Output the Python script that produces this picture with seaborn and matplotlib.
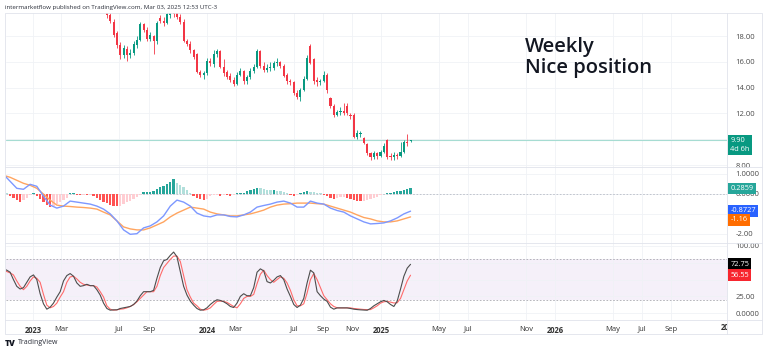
import numpy as np
import pandas as pd
import matplotlib
matplotlib.use("Agg")
import matplotlib.pyplot as plt
import matplotlib.dates as mdates
from matplotlib.transforms import Bbox
from matplotlib.lines import Line2D
from matplotlib.patches import Rectangle
import seaborn as sns

sns.set_theme(style="white")
plt.rcParams["font.family"] = ["Open Sans", "DejaVu Sans"]

# ---------------- data ----------------
first_week = "2022-10-31"          # week 0 of the indicator series
n_weeks = 123                      # weeks 0..122 (last = 2025-03-03)
candle_first_week = 31             # first visible candle (2023-06-05)

opens = [20.1, 19.6, 19.1, 18.2, 17.3, 16.5, 17.0, 16.5, 16.7, 17.3,
         17.7, 18.9, 18.5, 17.8, 18.0, 17.6, 19.4, 19.2, 19.0, 19.6,
         19.9, 19.8, 19.5, 19.1, 17.6, 17.4, 16.9, 16.6, 15.2, 15.0,
         15.1, 16.1, 15.8, 16.6, 16.8, 15.6, 15.2, 14.9, 14.6, 14.3,
         15.0, 15.3, 14.5, 14.8, 15.3, 15.6, 16.8, 15.7, 15.4, 15.5,
         15.5, 15.9, 16.0, 15.7, 15.0, 14.5, 14.4, 13.6, 13.3, 13.8,
         14.7, 17.2, 16.2, 14.6, 14.4, 14.5, 15.0, 13.2, 12.6, 11.9,
         12.1, 12.2, 12.6, 11.9, 11.9, 10.2, 10.4, 10.1, 9.6, 8.9,
         8.6, 8.9, 8.7, 9.0, 9.9, 8.7, 8.6, 8.8, 8.7, 9.0,
         9.8, 9.85]
closes = [19.6, 19.2, 18.1, 17.3, 16.5, 17.1, 16.5, 16.7, 17.4, 17.7,
          18.9, 18.5, 17.8, 18.1, 17.6, 19.0, 19.2, 19.0, 19.7, 20.0,
          19.7, 19.5, 19.1, 17.6, 17.4, 16.9, 16.4, 15.2, 15.0, 15.1,
          16.1, 15.9, 16.6, 16.8, 15.6, 15.1, 14.8, 14.6, 14.3, 15.0,
          15.3, 14.5, 14.8, 15.3, 15.6, 16.8, 15.7, 15.4, 15.5, 15.6,
          15.9, 16.0, 15.7, 14.9, 14.5, 14.4, 13.6, 13.3, 13.8, 14.7,
          16.3, 15.9, 14.5, 14.4, 14.5, 15.0, 13.8, 12.6, 11.9, 12.1,
          12.2, 12.0, 12.0, 11.8, 10.2, 10.5, 10.45, 9.7, 8.9, 8.6,
          8.9, 8.7, 9.0, 9.5, 8.6, 8.6, 8.8, 8.7, 9.0, 9.8,
          9.7, 9.90]
highs = [20.4, 19.8, 19.3, 18.4, 17.5, 17.3, 17.2, 17.0, 17.6, 18.0,
         19.1, 19.0, 18.7, 18.3, 18.1, 19.2, 19.6, 19.5, 19.9, 20.3,
         20.2, 20.0, 19.7, 19.3, 17.8, 17.6, 17.0, 16.7, 15.4, 15.3,
         16.3, 16.3, 16.9, 17.0, 16.9, 16.2, 15.4, 15.1, 14.8, 15.2,
         15.5, 15.4, 15.0, 15.5, 15.8, 17.0, 16.9, 16.0, 15.8, 16.0,
         16.1, 16.3, 16.1, 15.8, 15.1, 14.7, 14.5, 13.8, 14.0, 14.9,
         16.5, 17.4, 16.3, 14.8, 14.7, 15.3, 15.1, 13.3, 12.7, 12.3,
         12.5, 12.8, 12.8, 12.0, 12.0, 10.7, 10.6, 10.2, 9.7, 9.0,
         9.1, 9.0, 9.2, 9.7, 10.0, 8.9, 9.0, 8.9, 9.8, 9.9,
         10.4, 9.95]
lows = [19.4, 19.0, 17.9, 17.1, 16.2, 16.3, 16.1, 16.3, 16.5, 17.1,
        17.6, 18.3, 17.6, 17.6, 16.6, 17.4, 19.0, 18.8, 18.9, 19.4,
        19.5, 19.3, 18.9, 17.5, 17.2, 16.7, 16.2, 15.1, 14.8, 14.7,
        15.0, 15.7, 15.6, 16.4, 15.5, 14.9, 14.7, 14.4, 14.1, 14.2,
        14.9, 14.3, 14.3, 14.7, 15.1, 15.5, 15.5, 15.2, 15.2, 15.3,
        15.4, 15.7, 15.5, 14.8, 14.3, 14.2, 13.4, 13.1, 13.0, 13.7,
        14.6, 15.8, 14.3, 14.1, 14.2, 14.4, 13.6, 12.4, 11.7, 11.8,
        11.9, 11.9, 11.9, 11.6, 10.1, 10.0, 10.2, 9.6, 8.8, 8.4,
        8.5, 8.5, 8.6, 8.9, 8.5, 8.4, 8.4, 8.5, 8.6, 8.9,
        9.5, 9.8]

# MACD line and signal, sampled every second week (weeks 0,2,...,122)
macd_line = [0.97, 0.62, 0.27, 0.22, 0.47, 0.37, -0.12, -0.57, -0.72, -0.62,
             -0.37, -0.42, -0.47, -0.52, -0.62, -0.77, -1.01, -1.36, -1.81, -2.03,
             -2.00, -1.71, -1.61, -1.41, -1.11, -0.62, -0.32, -0.42, -0.62, -0.97,
             -1.11, -1.16, -1.06, -1.06, -1.14, -1.16, -1.06, -0.92, -0.67, -0.59,
             -0.52, -0.42, -0.37, -0.47, -0.67, -0.67, -0.37, -0.47, -0.52, -0.72,
             -0.84, -0.92, -1.11, -1.26, -1.41, -1.51, -1.49, -1.46, -1.36, -1.21,
             -1.01, -0.8727]
signal_line = [0.92, 0.82, 0.67, 0.52, 0.42, 0.27, -0.02, -0.32, -0.57, -0.62,
               -0.64, -0.67, -0.69, -0.72, -0.77, -0.92, -1.06, -1.36, -1.66, -1.76,
               -1.81, -1.81, -1.71, -1.56, -1.41, -1.16, -0.97, -0.82, -0.67, -0.72,
               -0.77, -0.92, -1.01, -1.06, -1.11, -1.11, -1.06, -1.01, -0.92, -0.82,
               -0.67, -0.57, -0.52, -0.50, -0.47, -0.47, -0.47, -0.50, -0.52, -0.62,
               -0.72, -0.82, -0.92, -1.06, -1.19, -1.26, -1.36, -1.41, -1.41, -1.36,
               -1.26, -1.16]
# weekly histogram (weeks 0..122)
macd_hist = [0.03, 0.02, -0.12, -0.20, -0.30, -0.40, -0.30, -0.20, -0.05, 0.03,
             -0.10, -0.25, -0.40, -0.55, -0.65, -0.60, -0.50, -0.42, -0.30, -0.20,
             0.05, 0.06, -0.04, -0.08, -0.06, -0.08, -0.07, -0.12, -0.20, -0.30,
             -0.40, -0.48, -0.55, -0.60, -0.62, -0.60, -0.50, -0.42, -0.35, -0.27,
             -0.15, -0.05, 0.08, 0.08, 0.10, 0.15, 0.25, 0.32, 0.40, 0.48,
             0.58, 0.72, 0.55, 0.45, 0.35, 0.20, 0.05, -0.10, -0.20, -0.25,
             -0.30, -0.25, -0.12, -0.05, -0.05, -0.10, -0.05, -0.08, -0.12, -0.05,
             0.02, 0.05, 0.06, 0.12, 0.18, 0.25, 0.30, 0.28, 0.22, 0.20,
             0.18, 0.20, 0.15, 0.12, 0.10, 0.05, -0.08, -0.12, -0.05, 0.02,
             0.08, 0.12, 0.10, 0.08, 0.05, 0.02, -0.05, -0.12, -0.20, -0.25,
             -0.20, -0.15, -0.15, -0.20, -0.28, -0.32, -0.35, -0.38, -0.35, -0.30,
             -0.28, -0.20, -0.15, -0.08, -0.02, 0.02, 0.05, 0.08, 0.12, 0.16,
             0.20, 0.24, 0.2859]

# stochastic %K and %D (weeks 0..122)
stoch_k = [66, 64, 61, 50, 40, 36, 38, 46, 54, 57,
           50, 29, 14, 6, 9, 15, 24, 32, 48, 56,
           59, 55, 45, 40, 41, 43, 41, 41, 35, 27,
           15, 7, 4.5, 5, 5, 7, 8, 9, 10, 13,
           18, 26, 32, 32, 32, 34, 52, 68, 78, 80,
           86, 91, 84, 62, 40, 27, 18, 12, 7, 4.5,
           5, 8, 13, 17, 20, 19, 17, 14, 10, 8.5,
           15, 25, 29, 26, 26, 38, 61, 66, 63, 47,
           45, 49, 54, 56, 50, 36, 25, 13, 8.5, 12,
           22, 45, 64, 60, 32, 26, 21, 17.6, 9, 6,
           7.9, 7.9, 7.9, 7.9, 7, 6, 5.4, 5, 4.7, 4.4,
           7, 11, 14, 17, 19, 17, 13, 10, 18, 36,
           55, 67, 72.75]
stoch_d = [63, 62, 60, 57, 48, 40, 35, 40, 48, 54,
           52, 46, 28, 12, 8, 10, 15, 24, 32, 46,
           54, 55, 51, 46, 43, 42, 41, 41, 39, 32,
           24, 11, 6, 4.5, 5, 6, 6.5, 8, 10, 12.7,
           17, 22, 27, 32, 32, 32, 40, 56, 68, 74,
           80, 85, 85, 77, 56, 35, 24, 15, 11, 6,
           4.5, 5.5, 7.9, 13, 17.6, 18, 17.6, 16, 13, 10,
           8, 14, 22, 25, 25, 28, 44, 58, 64, 56,
           50, 46, 50, 54, 52, 45, 34, 20, 11, 11,
           14, 30, 50, 59, 50, 38, 26, 20, 14, 10,
           8, 7.9, 7.9, 7.9, 7.9, 7, 6.5, 6, 5.5, 5.4,
           5.4, 8, 11, 15, 17, 17.6, 16.5, 15.2, 15.5, 22,
           35, 48, 56.55]

tick_dates = ["2023-01-01", "2023-03-01", "2023-07-01", "2023-09-01", "2024-01-01",
              "2024-03-01", "2024-07-01", "2024-09-01", "2024-11-01", "2025-01-01",
              "2025-05-01", "2025-07-01", "2025-11-01", "2026-01-01", "2026-05-01",
              "2026-07-01", "2026-09-01"]
tick_labels = ["2023", "Mar", "Jul", "Sep", "2024", "Mar", "Jul", "Sep", "Nov",
               "2025", "May", "Jul", "Nov", "2026", "May", "Jul", "Sep"]
last_tick_date, last_tick_label = "2027-01-01", "2027"

# scale levels (grid); labels hidden where the value boxes cover them
price_ticks = [8, 10, 12, 14, 16, 18]
price_tick_labels = ["8.00", "", "12.00", "14.00", "16.00", "18.00"]
macd_ticks = [1.0, 0.0, -1.0, -2.0]
macd_tick_labels = ["1.0000", "0.0000", "", "-2.00"]
stoch_ticks = [100, 75, 50, 25, 0]
stoch_tick_labels = ["100.00", "", "", "25.00", "0.0000"]

# ---------------- layout ----------------
W, H = 768, 353
fig = plt.figure(figsize=(W / 100, H / 100), dpi=100)
fig.patch.set_facecolor("white")


def rect(x0, y0, x1, y1):
    return [x0 / W, (H - y1) / H, (x1 - x0) / W, (y1 - y0) / H]


ax_p = fig.add_axes(rect(6, 13, 727, 167))
ax_m = fig.add_axes(rect(6, 167, 727, 243), sharex=ax_p)
ax_s = fig.add_axes(rect(6, 243, 727, 320), sharex=ax_p)

d0 = mdates.date2num(pd.Timestamp(first_week))
weeks = d0 + 7.0 * np.arange(n_weeks)
cx = weeks[candle_first_week:candle_first_week + len(closes)]
mx = weeks[::2]

UP, DN = "#089981", "#f23645"
grid_c = "#f0f2f6"

for ax in (ax_p, ax_m, ax_s):
    ax.set_facecolor("white")
    for s in ax.spines.values():
        s.set_visible(False)
    ax.yaxis.tick_right()
    ax.tick_params(axis="y", length=0, pad=6, labelsize=5.5, labelcolor="#4a4a4a")
    ax.tick_params(axis="x", length=0)
    ax.grid(True, color=grid_c, lw=0.6)
    ax.set_axisbelow(True)

# ---- price candles ----
o = np.array(opens); c = np.array(closes); hi = np.array(highs); lo = np.array(lows)
cols = np.where(c >= o, UP, DN)
ax_p.vlines(cx, lo, hi, colors=cols, lw=0.6, zorder=2)
body = np.where(np.abs(c - o) < 0.06, 0.06, c - o)
ax_p.bar(cx, body, bottom=o, width=4.4, color=cols, linewidth=0, zorder=3)
ax_p.axhline(closes[-1], color="#a6dcd2", lw=0.8, zorder=1)
ax_p.set_ylim(18 - (167 - 36) / 12.9, 18 + (36 - 13) / 12.9)
ax_p.set_yticks(price_ticks)
ax_p.set_yticklabels(price_tick_labels)

# ---- MACD ----
h = np.array(macd_hist)
prev = np.concatenate([[h[0]], h[:-1]])
hcols = np.where(h >= 0, np.where(h >= prev, "#26a69a", "#b2dfdb"),
                 np.where(h < prev, "#ff5252", "#ffcdd2"))
ax_m.bar(weeks, h, width=4.8, color=hcols, linewidth=0, zorder=2)
ax_m.axhline(0, color="#b8bcc6", lw=0.6, ls=(0, (2, 2)), zorder=1)
sns.lineplot(x=mx, y=signal_line, ax=ax_m, color="#ffa560", lw=1.0, estimator=None, zorder=3)
sns.lineplot(x=mx, y=macd_line, ax=ax_m, color="#7d98ff", lw=1.0, estimator=None, zorder=4)
ax_m.set_ylim(-(243 - 193.7) / 20.0, (193.7 - 167) / 20.0)
ax_m.set_yticks(macd_ticks)
ax_m.set_yticklabels(macd_tick_labels)

# ---- Stochastic ----
ax_s.axhspan(20, 80, color="#f5f0f9", lw=0, zorder=0)
for lvl in (20, 80):
    ax_s.axhline(lvl, color="#a9a9b0", lw=0.6, ls=(0, (2, 2)), zorder=1)
sns.lineplot(x=weeks, y=stoch_d, ax=ax_s, color="#ff6b6b", lw=0.8, estimator=None, zorder=3)
sns.lineplot(x=weeks, y=stoch_k, ax=ax_s, color="#4d4d4d", lw=0.8, estimator=None, zorder=4)
ax_s.set_ylim(-(320 - 313.2) / 0.672, (313.2 - 243) / 0.672)
ax_s.set_yticks(stoch_ticks)
ax_s.set_yticklabels(stoch_tick_labels)

for ax in (ax_m, ax_s):
    ax.set_xlabel(""); ax.set_ylabel("")

# ---- x axis ----
tx = [mdates.date2num(pd.Timestamp(t)) for t in tick_dates]
ax_p.set_xlim(d0 + 0.77 * 7, d0 + 216.83 * 7)
ax_s.set_xticks(tx)
ax_s.set_xticklabels(tick_labels)
ax_s.tick_params(axis="x", labelsize=5.5, pad=4, labelcolor="#333333")
for t, lab in zip(ax_s.get_xticklabels(), tick_labels):
    if lab.isdigit():
        t.set_fontweight("bold")
for ax in (ax_p, ax_m):
    ax.tick_params(axis="x", labelbottom=False)

# clipped last year label
x27 = ax_s.transData.transform((mdates.date2num(pd.Timestamp(last_tick_date)), 0))[0]
t27 = fig.text(x27 / W, (H - 328) / H, last_tick_label, ha="center", va="center",
               fontsize=5.5, fontweight="bold", color="#333333")
t27.set_clip_box(Bbox([[0, 0], [727, H]]))
t27.set_clip_on(True)

# ---- value boxes on the right scale ----
def box(ax, y, txt, fc, tc="white"):
    ax.text(1.0045, y, txt, transform=ax.get_yaxis_transform(), ha="left", va="center",
            fontsize=5.3, color=tc, zorder=10, clip_on=False, linespacing=1.3,
            bbox=dict(boxstyle="square,pad=0.3", fc=fc, ec="none"))

box(ax_p, 9.55, "9.90\n4d 6h", UP)
box(ax_m, 0.26, "0.2859", "#26a69a")
box(ax_m, -0.865, "-0.8727", "#2962ff")
box(ax_m, -1.31, "-1.16", "#ff6d00")
box(ax_s, 73.2, "72.75", "#000000")
box(ax_s, 56.8, "56.55", "#f7262f")

# ---- frame lines ----
frame_c = "#e0e3eb"
for y in (167, 243, 320):
    fig.add_artist(Line2D([5 / W, 762 / W], [(H - y) / H] * 2, color=frame_c, lw=0.6))
fig.add_artist(Line2D([727 / W, 727 / W], [(H - 13) / H, (H - 334) / H], color=frame_c, lw=0.6))
fig.add_artist(Rectangle((5 / W, (H - 334) / H), 757 / W, 321 / H, fill=False,
                         ec=frame_c, lw=0.6, transform=fig.transFigure))

# ---- texts ----
fig.text(5 / W, (H - 8) / H, "intermarketflow published on TradingView.com, Mar 03, 2025 12:53 UTC-3",
         fontsize=4.4, color="#2a2e39", va="center", ha="left")
fig.text(525 / W, (H - 52) / H, "Weekly", fontsize=14.5, fontweight="semibold",
         color="#131722", va="baseline", ha="left")
fig.text(525 / W, (H - 73) / H, "Nice position", fontsize=14.5, fontweight="semibold",
         color="#131722", va="baseline", ha="left")
fig.text(5 / W, (H - 343) / H, "TV", fontsize=6, fontweight="heavy", color="#131722",
         va="center", ha="left")
fig.text(18 / W, (H - 343) / H, "TradingView", fontsize=5, color="#2a2e39",
         va="center", ha="left")

fig.savefig("out.png", dpi=100, facecolor="white")
